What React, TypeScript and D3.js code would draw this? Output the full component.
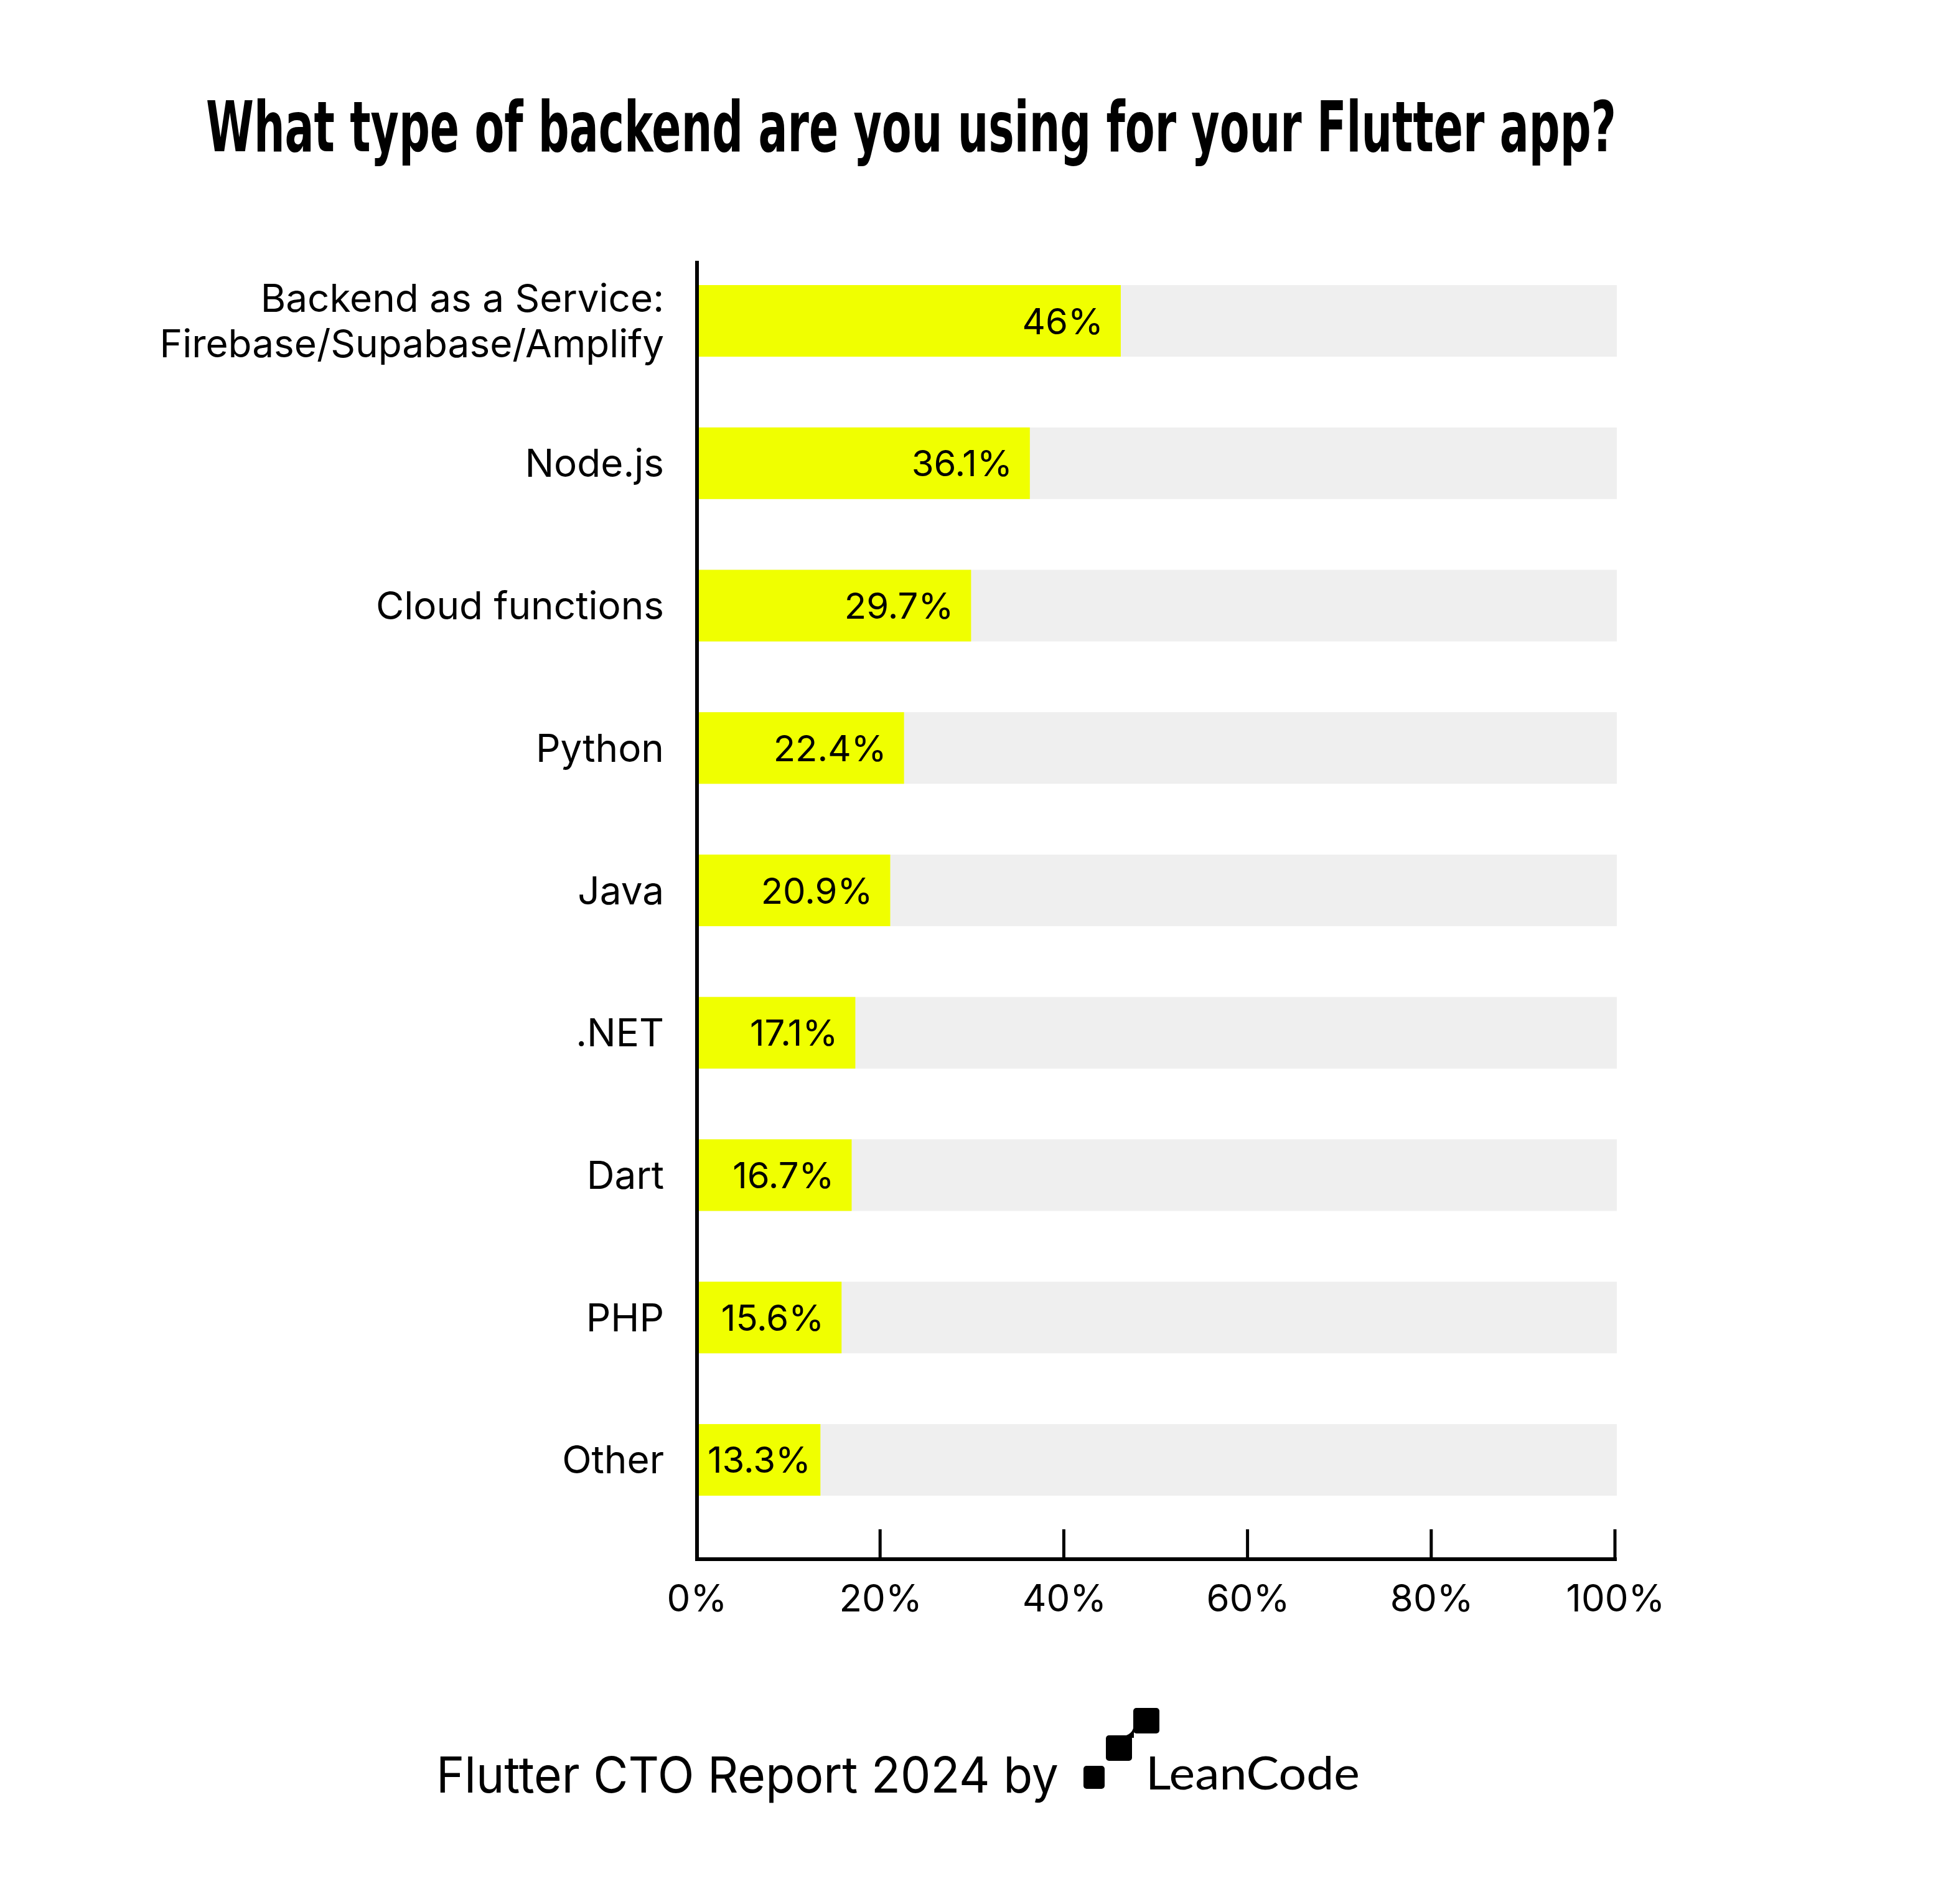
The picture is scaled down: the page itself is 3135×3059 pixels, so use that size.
import React, { useEffect } from "react";
import * as d3 from "d3";

const categories = [
  "Backend as a Service:\nFirebase/Supabase/Amplify",
  "Node.js",
  "Cloud functions",
  "Python",
  "Java",
  ".NET",
  "Dart",
  "PHP",
  "Other",
];
const values = [46, 36.1, 29.7, 22.4, 20.9, 17.1, 16.7, 15.6, 13.3];
const tickValues = [0, 20, 40, 60, 80, 100];
const tickLabels = ["0%", "20%", "40%", "60%", "80%", "100%"];

const TITLE = "What type of backend are you using for your Flutter app?";
const FOOTER = "Flutter CTO Report 2024 by";
const BRAND = "LeanCode";

const W = 3135;
const H = 3059;
const BODY_FONT = "Inter, 'Noto Sans', 'DejaVu Sans', sans-serif";

function fmt(v: number) {
  return Number.isInteger(v) ? `${v}%` : `${v.toFixed(1)}%`;
}

let measureCtx: CanvasRenderingContext2D | null = null;
function textWidth(s: string, font: string) {
  if (!measureCtx) {
    const c = document.createElement("canvas");
    measureCtx = c.getContext("2d");
  }
  if (!measureCtx) return s.length * 30;
  measureCtx.font = font;
  return measureCtx.measureText(s).width;
}

export default function App() {
  useEffect(() => {
    document.body.style.margin = "0";
  }, []);

  const x = d3.scaleLinear().domain([0, 100]).range([1122, 2598]);
  const y = d3
    .scaleBand<string>()
    .domain(categories)
    .range([458, 2403])
    .paddingInner(0.497)
    .paddingOuter(0);

  const axisX = 1120;
  const axisTop = 419;
  const axisY = 2505;
  const valueFontSize = 58;
  const valueFont = `${valueFontSize}px Inter`;

  return (
    <div style={{ position: "absolute", left: 0, top: 0 }}>
      <svg width={W} height={H} viewBox={`0 0 ${W} ${H}`} style={{ display: "block", background: "#fff" }}>
        <rect x={0} y={0} width={W} height={H} fill="#ffffff" />
        {/* Title */}
        <g transform="translate(331,243) scale(1,1.2)">
          <text
            x={0}
            y={0}
            fontFamily="'Liberation Sans Narrow', 'DejaVu Sans Condensed', sans-serif"
            fontWeight={700}
            fontSize={93}
            textLength={2266}
            lengthAdjust="spacingAndGlyphs"
            fill="#000"
          >
            {TITLE}
          </text>
        </g>

        {/* Bars */}
        {categories.map((c, i) => {
          const by = y(c) as number;
          const bh = y.bandwidth();
          const cy = by + bh / 2;
          const v = values[i];
          const label = fmt(v);
          const tw = textWidth(label, valueFont);
          let endX = x(v) - 28;
          if (endX - tw < x(0) + 15) endX = x(0) + 15 + tw;
          const lines = c.split("\n");
          const lh = 73;
          const firstBaseline = cy + 22 - ((lines.length - 1) * lh) / 2;
          return (
            <g key={c}>
              <rect x={x(0)} y={by} width={x(100) - x(0)} height={bh} fill="#EFEFEF" />
              <rect x={x(0)} y={by} width={x(v) - x(0)} height={bh} fill="#F0FF00" />
              <text
                x={endX}
                y={cy + 21}
                textAnchor="end"
                fontFamily={BODY_FONT}
                fontSize={valueFontSize}
                fill="#000"
              >
                {label}
              </text>
              <text textAnchor="end" fontFamily={BODY_FONT} fontSize={62} fill="#000">
                {lines.map((ln, j) => (
                  <tspan key={j} x={1067} y={firstBaseline + j * lh}>
                    {ln}
                  </tspan>
                ))}
              </text>
            </g>
          );
        })}

        {/* Axes */}
        <line x1={axisX} x2={axisX} y1={axisTop} y2={axisY + 3} stroke="#000" strokeWidth={6} />
        <line x1={axisX - 3} x2={x(100)} y1={axisY} y2={axisY} stroke="#000" strokeWidth={6} />
        {tickValues.map((t, i) => (
          <g key={t}>
            {t > 0 && (
              <line x1={x(t) - 3} x2={x(t) - 3} y1={2457} y2={axisY} stroke="#000" strokeWidth={5} />
            )}
            <text
              x={x(t) - 2}
              y={2589}
              textAnchor="middle"
              fontFamily={BODY_FONT}
              fontSize={60}
              fill="#000"
            >
              {tickLabels[i]}
            </text>
          </g>
        ))}

        {/* Footer */}
        <text
          x={701}
          y={2880}
          fontFamily={BODY_FONT}
          fontSize={80}
          textLength={1000}
          lengthAdjust="spacingAndGlyphs"
          fill="#000"
        >
          {FOOTER}
        </text>
        <g fill="#000">
          <rect x={1741} y={2837} width={34} height={37} rx={5} />
          <rect x={1777} y={2788} width={42} height={41} rx={5} />
          <rect x={1821} y={2744} width={42} height={41} rx={5} />
          <path d="M1800 2789.5 C1814 2789.5 1822 2782 1822 2770 L1822 2792 L1800 2792 Z" />
        </g>
        <text
          x={1841}
          y={2875}
          fontFamily="Lato, 'Open Sans', sans-serif"
          fontWeight={400}
          fontSize={73}
          textLength={344}
          lengthAdjust="spacingAndGlyphs"
          fill="#000"
        >
          {BRAND}
        </text>
      </svg>
    </div>
  );
}
